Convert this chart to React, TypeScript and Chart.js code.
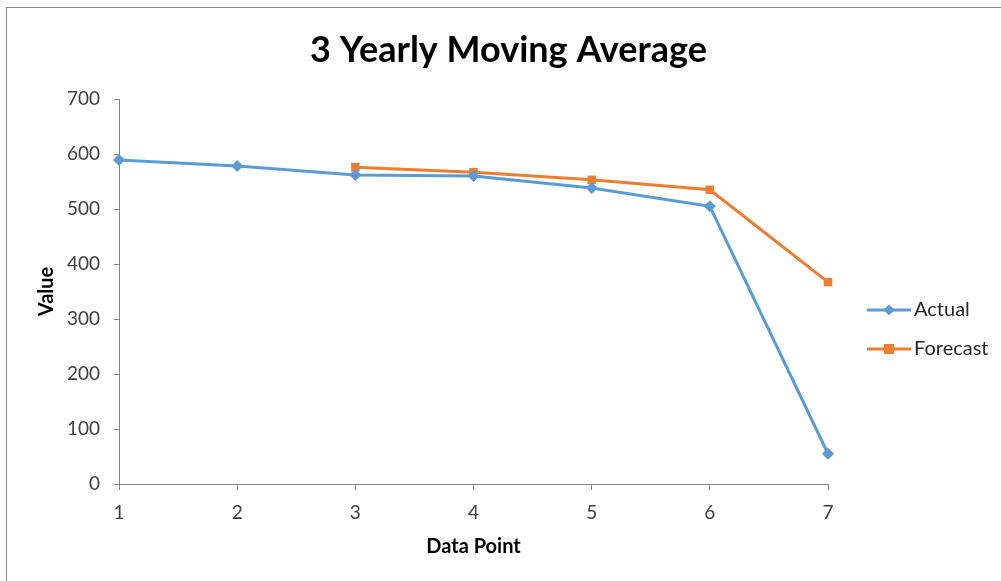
import React, { useEffect, useRef } from "react";
import { Chart, registerables } from "chart.js";

Chart.register(...registerables);

const categories = ["1", "2", "3", "4", "5", "6", "7"];
const actualValues = [589, 578, 562, 560, 538, 505, 55];
const forecastValues = [null, null, 576, 567, 553, 535, 367];
const yTicks = [0, 100, 200, 300, 400, 500, 600, 700];

const FONT = "Lato, 'Open Sans', sans-serif";

const legendPlugin = {
  id: "sideLegend",
  afterDraw(chart: any) {
    const ctx = chart.ctx;
    const rows = [310, 349];
    chart.data.datasets.forEach((ds: any, i: number) => {
      const y = rows[i];
      const x0 = 867;
      const x1 = 911;
      const cx = (x0 + x1) / 2;
      ctx.save();
      ctx.strokeStyle = ds.borderColor;
      ctx.lineWidth = 3;
      ctx.beginPath();
      ctx.moveTo(x0, y);
      ctx.lineTo(x1, y);
      ctx.stroke();
      ctx.fillStyle = ds.backgroundColor;
      if (ds.pointStyle === "rectRot") {
        const r = 5.5;
        ctx.beginPath();
        ctx.moveTo(cx, y - r);
        ctx.lineTo(cx + r, y);
        ctx.lineTo(cx, y + r);
        ctx.lineTo(cx - r, y);
        ctx.closePath();
        ctx.fill();
      } else {
        ctx.fillRect(cx - 5, y - 5, 10, 10);
      }
      ctx.fillStyle = "#262626";
      ctx.font = `20px ${FONT}`;
      ctx.textAlign = "left";
      ctx.textBaseline = "middle";
      ctx.fillText(ds.label, 914, y);
      ctx.restore();
    });
  },
};

export default function App() {
  const ref = useRef<HTMLCanvasElement | null>(null);
  useEffect(() => {
    if (!ref.current) return;
    const chart = new Chart(ref.current, {
      type: "line",
      data: {
        labels: categories,
        datasets: [
          {
            label: "Actual",
            data: actualValues,
            borderColor: "#5B9BD5",
            backgroundColor: "#5B9BD5",
            borderWidth: 3,
            pointStyle: "rectRot",
            pointRadius: 6,
            pointBorderWidth: 0,
            tension: 0,
          },
          {
            label: "Forecast",
            data: forecastValues,
            borderColor: "#ED7D31",
            backgroundColor: "#ED7D31",
            borderWidth: 3,
            pointStyle: "rect",
            pointRadius: 6,
            pointBorderWidth: 0,
            tension: 0,
          },
        ],
      },
      options: {
        responsive: false,
        animation: false,
        layout: { padding: { left: 16, right: 0, top: 0, bottom: 0 } },
        plugins: {
          legend: { display: false },
          tooltip: { enabled: false },
          title: {
            display: true,
            text: "3 Yearly Moving Average",
            color: "#000",
            font: { family: FONT, size: 36, weight: "bold" },
            padding: { top: 28.4, bottom: 27.4 },
          },
        },
        scales: {
          x: {
            type: "category",
            offset: false,
            grid: {
              drawOnChartArea: false,
              drawTicks: true,
              tickLength: 6,
              color: "#868686",
            },
            border: { color: "#868686", width: 1 },
            ticks: {
              color: "#404040",
              font: { family: FONT, size: 19 },
              padding: 11,
              maxRotation: 0,
            },
            title: {
              display: true,
              text: "Data Point",
              color: "#000",
              font: { family: FONT, size: 20, weight: "bold" },
              padding: { top: 22, bottom: 22 },
            },
            afterFit: (s: any) => {
              s.height = 97;
            },
          },
          y: {
            min: 0,
            max: 700,
            afterBuildTicks: (s: any) => {
              s.ticks = yTicks.map((v) => ({ value: v }));
            },
            grid: {
              drawOnChartArea: false,
              drawTicks: true,
              tickLength: 5,
              color: "#868686",
            },
            border: { color: "#868686", width: 1 },
            ticks: {
              color: "#404040",
              font: { family: FONT, size: 19 },
              padding: 14,
            },
            title: {
              display: true,
              text: "Value",
              color: "#000",
              font: { family: FONT, size: 20, weight: "bold" },
              padding: { top: 19, bottom: 19 },
            },
            afterFit: (s: any) => {
              s.width = 103;
            },
          },
          ySpacer: {
            type: "linear",
            position: "right",
            display: true,
            min: 0,
            max: 1,
            grid: { display: false, drawTicks: false },
            border: { display: false },
            ticks: { display: false },
            afterFit: (s: any) => {
              s.width = 173;
            },
          },
        },
      },
      plugins: [legendPlugin],
    });
    return () => chart.destroy();
  }, []);

  return (
    <div
      style={{
        position: "fixed",
        left: 0,
        top: 0,
        width: 1001,
        height: 581,
        overflow: "hidden",
        background: "#fff",
      }}
    >
      <div
        style={{
          position: "absolute",
          left: 6,
          top: 7,
          width: 1100,
          height: 700,
          borderLeft: "1px solid #8a8a8a",
          borderTop: "1px solid #8a8a8a",
        }}
      />
      <canvas
        ref={ref}
        width={1001}
        height={581}
        style={{ position: "absolute", left: 0, top: 0, width: 1001, height: 581 }}
      />
    </div>
  );
}
